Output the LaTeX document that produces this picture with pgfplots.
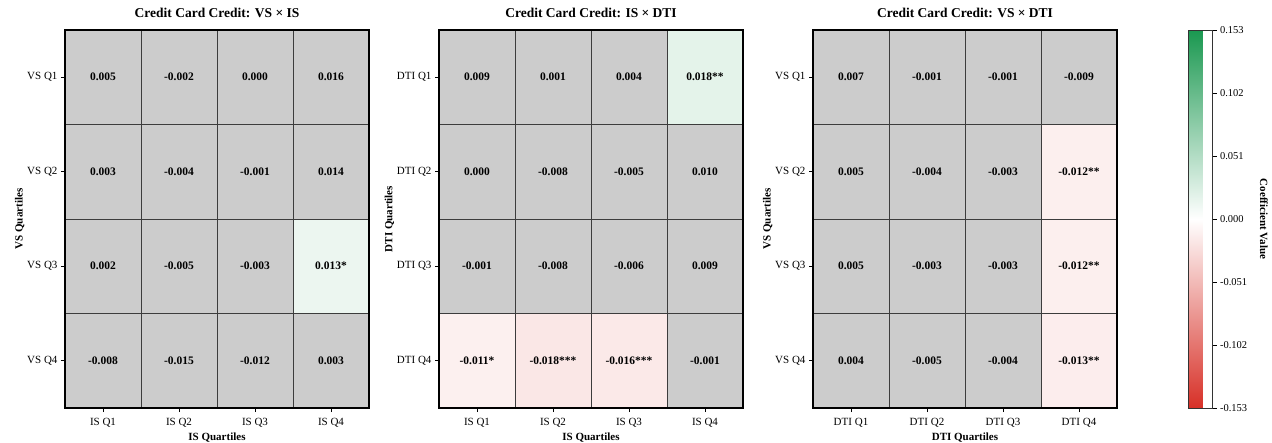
\documentclass[border=0pt]{standalone}
\usepackage{fontspec}
\setmainfont{Liberation Serif}
\usepackage{pgfplots}
\usepackage{pgfplotstable}
\pgfplotsset{compat=1.18}
\definecolor{cgray}{RGB}{204,204,204}
\definecolor{gridc}{RGB}{60,60,60}
\definecolor{cgreen}{RGB}{26,152,80}
\definecolor{cred}{RGB}{215,48,39}
\pgfplotsset{colormap={rwg}{rgb255=(215,48,39) rgb255=(255,255,255) rgb255=(26,152,80)}}

% cell values: x (column), y (row, 0 = Q1 at top), value, label
\pgfplotstableread{
x y v lab
0 0 0.005 0.005
1 0 -0.002 -0.002
2 0 0.000 0.000
3 0 0.016 0.016
0 1 0.003 0.003
1 1 -0.004 -0.004
2 1 -0.001 -0.001
3 1 0.014 0.014
0 2 0.002 0.002
1 2 -0.005 -0.005
2 2 -0.003 -0.003
3 2 0.013 0.013*
0 3 -0.008 -0.008
1 3 -0.015 -0.015
2 3 -0.012 -0.012
3 3 0.003 0.003
}\tabA
\pgfplotstableread{
x y v lab
0 0 0.009 0.009
1 0 0.001 0.001
2 0 0.004 0.004
3 0 0.018 0.018**
0 1 0.000 0.000
1 1 -0.008 -0.008
2 1 -0.005 -0.005
3 1 0.010 0.010
0 2 -0.001 -0.001
1 2 -0.008 -0.008
2 2 -0.006 -0.006
3 2 0.009 0.009
0 3 -0.011 -0.011*
1 3 -0.018 -0.018***
2 3 -0.016 -0.016***
3 3 -0.001 -0.001
}\tabB
\pgfplotstableread{
x y v lab
0 0 0.007 0.007
1 0 -0.001 -0.001
2 0 -0.001 -0.001
3 0 -0.009 -0.009
0 1 0.005 0.005
1 1 -0.004 -0.004
2 1 -0.003 -0.003
3 1 -0.012 -0.012**
0 2 0.005 0.005
1 2 -0.003 -0.003
2 2 -0.003 -0.003
3 2 -0.012 -0.012**
0 3 0.004 0.004
1 3 -0.005 -0.005
2 3 -0.004 -0.004
3 3 -0.013 -0.013**
}\tabC

\pgfplotsset{
  hm/.style={
    scale only axis, width=304pt, height=378pt,
    xmin=-0.5, xmax=3.5, ymin=-0.5, ymax=3.5, y dir=reverse,
    xtick={0,1,2,3}, ytick={0,1,2,3},
    minor xtick={0.5,1.5,2.5}, minor ytick={0.5,1.5,2.5},
    xminorgrids, yminorgrids,
    minor grid style={gridc, line width=0.6pt},
    minor tick length=0pt,
    tick pos=left, tick align=outside,
    major tick length=4pt,
    every tick/.style={black, line width=0.6pt},
    axis on top,
    axis line style={line width=1.6pt},
    axis background/.style={fill=cgray},
    tick label style={font=\fontsize{11}{13}\selectfont},
    xticklabel style={yshift=-3pt},
    label style={font=\fontsize{11}{13}\selectfont\bfseries},
    title style={font=\fontsize{13.5}{15}\selectfont\bfseries, yshift=3pt},
    xlabel style={yshift=2pt},
    ylabel style={yshift=-4pt},
  },
  cells/.style={only marks, mark=none, nodes near coords,
    point meta=explicit symbolic,
    nodes near coords align=center,
    every node near coord/.append style={font=\fontsize{11.5}{13}\selectfont\bfseries, text=black, anchor=center}},
  sig/.style={draw=none, fill=#1, forget plot},
}

\begin{document}
\begin{tikzpicture}
\useasboundingbox (0,0) rectangle (1272pt,443pt);

\begin{axis}[hm, at={(65pt,35pt)}, anchor=south west,
  title={Credit Card Credit: VS × IS},
  xticklabels={IS Q1,IS Q2,IS Q3,IS Q4},
  yticklabels={VS Q1,VS Q2,VS Q3,VS Q4},
  xlabel={IS Quartiles}, ylabel={VS Quartiles}]
% 0.013 -> 0.013/0.153 of the way to green
\addplot[sig=cgreen!8.5!white] coordinates {(2.5,1.5) (3.5,1.5) (3.5,2.5) (2.5,2.5)} -- cycle;
\addplot[cells] table[x=x, y=y, meta=lab] {\tabA};
\end{axis}

\begin{axis}[hm, at={(439pt,35pt)}, anchor=south west,
  title={Credit Card Credit: IS × DTI},
  xticklabels={IS Q1,IS Q2,IS Q3,IS Q4},
  yticklabels={DTI Q1,DTI Q2,DTI Q3,DTI Q4},
  xlabel={IS Quartiles}, ylabel={DTI Quartiles}]
\addplot[sig=cgreen!11.8!white] coordinates {(2.5,-0.5) (3.5,-0.5) (3.5,0.5) (2.5,0.5)} -- cycle;
\addplot[sig=cred!7.2!white] coordinates {(-0.5,2.5) (0.5,2.5) (0.5,3.5) (-0.5,3.5)} -- cycle;
\addplot[sig=cred!11.8!white] coordinates {(0.5,2.5) (1.5,2.5) (1.5,3.5) (0.5,3.5)} -- cycle;
\addplot[sig=cred!10.5!white] coordinates {(1.5,2.5) (2.5,2.5) (2.5,3.5) (1.5,3.5)} -- cycle;
\addplot[cells] table[x=x, y=y, meta=lab] {\tabB};
\end{axis}

\begin{axis}[hm, at={(813pt,35pt)}, anchor=south west,
  title={Credit Card Credit: VS × DTI},
  xticklabels={DTI Q1,DTI Q2,DTI Q3,DTI Q4},
  yticklabels={VS Q1,VS Q2,VS Q3,VS Q4},
  xlabel={DTI Quartiles}, ylabel={VS Quartiles},
  colormap name=rwg, point meta min=-0.153, point meta max=0.153,
  colorbar,
  colorbar style={
    at={(parent axis.north east)}, anchor=north west, xshift=63pt,
    scale only axis, width=24pt, height=378pt,
    ymin=-0.153, ymax=0.153,
    ytick={-0.153,-0.102,-0.051,0,0.051,0.102,0.153},
    yticklabels={-0.153,-0.102,-0.051,0.000,0.051,0.102,0.153},
    ytick pos=right, yticklabel pos=right,
    tick align=outside, major tick length=4pt,
    every tick/.style={black, line width=0.6pt},
    axis line style={line width=0.8pt, black!80},
    tick label style={font=\fontsize{10.5}{12}\selectfont},
    xticklabel style={},
    ylabel={Coefficient Value},
    ylabel style={font=\fontsize{11}{13}\selectfont\bfseries, rotate=180, yshift=6pt},
    axis background/.style={},
  }]
\addplot[sig=cred!7.8!white] coordinates {(2.5,0.5) (3.5,0.5) (3.5,1.5) (2.5,1.5)} -- cycle;
\addplot[sig=cred!7.8!white] coordinates {(2.5,1.5) (3.5,1.5) (3.5,2.5) (2.5,2.5)} -- cycle;
\addplot[sig=cred!8.5!white] coordinates {(2.5,2.5) (3.5,2.5) (3.5,3.5) (2.5,3.5)} -- cycle;
\addplot[cells] table[x=x, y=y, meta=lab] {\tabC};
\end{axis}
\end{tikzpicture}
\end{document}
